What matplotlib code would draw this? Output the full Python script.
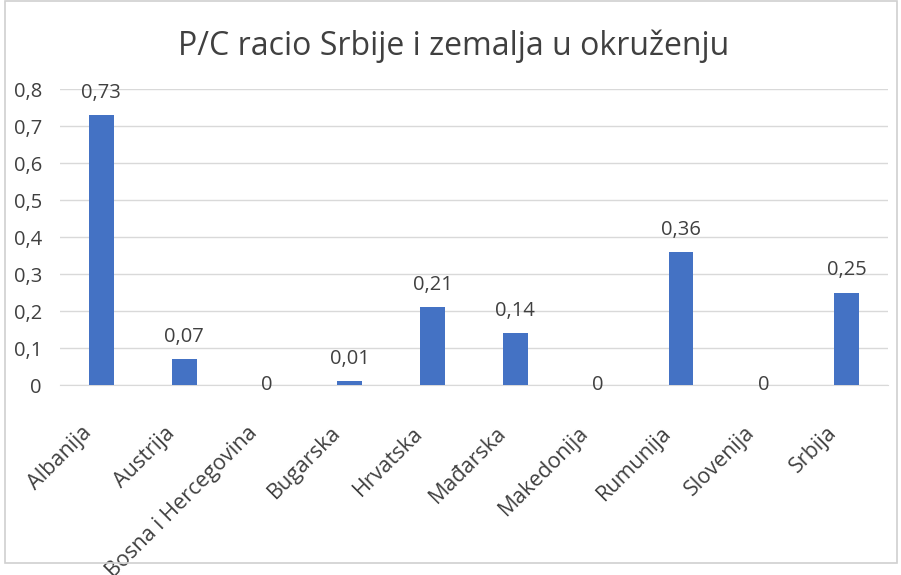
import matplotlib
matplotlib.use("Agg")
import matplotlib.pyplot as plt
from matplotlib.patches import Rectangle
from matplotlib.transforms import ScaledTranslation

countries = ["Albanija", "Austrija", "Bosna i Hercegovina", "Bugarska", "Hrvatska",
             "Mađarska", "Makedonija", "Rumunija", "Slovenija", "Srbija"]
pc_ratio = [0.73, 0.07, 0, 0.01, 0.21, 0.14, 0, 0.36, 0, 0.25]
y_ticks = [0, 0.1, 0.2, 0.3, 0.4, 0.5, 0.6, 0.7, 0.8]

plt.rcParams["font.family"] = ["Open Sans", "DejaVu Sans"]
txt = "#404040"

fig = plt.figure(figsize=(9.01, 5.75), dpi=100)
ax = fig.add_axes([0.0666, 0.3304, 0.919, 0.5148])

x = range(len(countries))
ax.bar(x, pc_ratio, width=0.3, color="#4472C4", zorder=3)

def fmt(v):
    return f"{v:g}".replace(".", ",")

for i, v in zip(x, pc_ratio):
    if v == 0:
        ax.text(i, 0, fmt(v), ha="center", va="center", fontsize=14.5, color=txt)
    else:
        ax.annotate(fmt(v), (i, v), xytext=(0, 16), textcoords="offset points",
                    ha="center", va="center", fontsize=14.5, color=txt,
                    annotation_clip=False)

ax.set_xlim(-0.5, len(countries) - 0.5)
ax.set_ylim(0, 0.8)
ax.set_yticks(y_ticks)
ax.set_yticklabels([fmt(t) for t in y_ticks], fontsize=14.5, color=txt)
ax.set_xticks(list(x))
ax.set_xticklabels(countries, rotation=45, ha="right", rotation_mode="anchor",
                   fontsize=15.5, color=txt)
ax.tick_params(axis="both", length=0)
ax.tick_params(axis="x", pad=27)
ax.tick_params(axis="y", pad=13)
# Excel puts the rotated labels a bit left of the category centre
shift = ScaledTranslation(-20 / 100, 0, fig.dpi_scale_trans)
for lbl in ax.get_xticklabels():
    lbl.set_transform(lbl.get_transform() + shift)
ax.yaxis.grid(True, color="#d9d9d9", linewidth=1, zorder=0)
for s in ["top", "right", "left"]:
    ax.spines[s].set_visible(False)
ax.spines["bottom"].set_color("#d9d9d9")

fig.text(0.503, 0.92, "P/C racio Srbije i zemalja u okruženju", ha="center",
         va="center", fontsize=23, color=txt)

fig.add_artist(Rectangle((5 / 901, 12 / 575), 892 / 901, 562 / 575,
                         transform=fig.transFigure, fill=False,
                         edgecolor="#d0d0d0", linewidth=1.2))

fig.savefig("out.png")
